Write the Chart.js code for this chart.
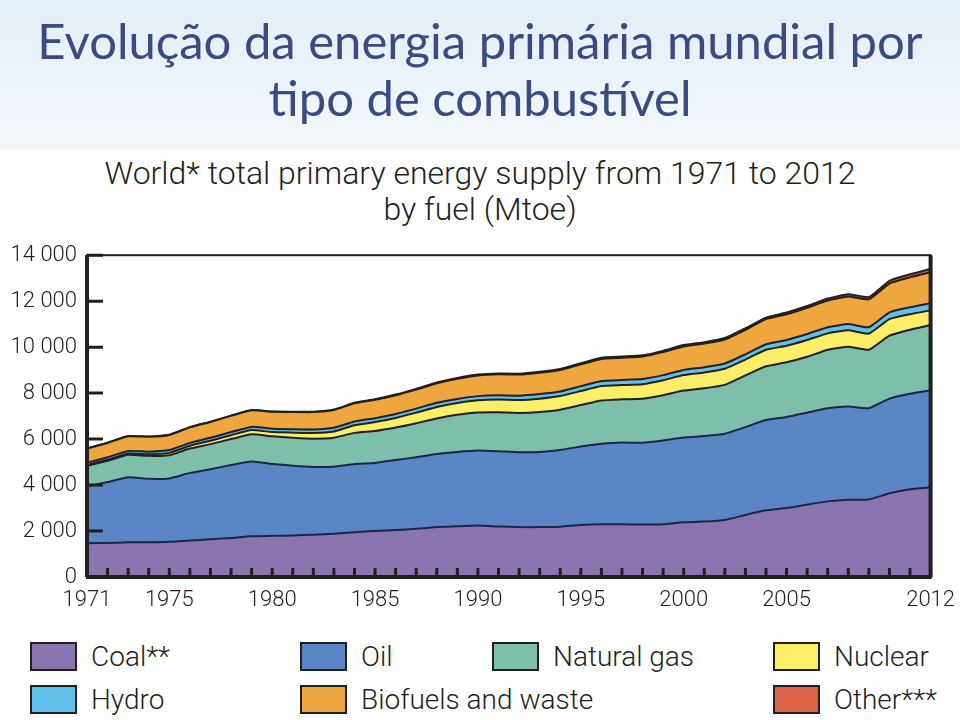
<!DOCTYPE html>
<html>
<head>
<meta charset="utf-8">
<script src="https://cdn.jsdelivr.net/npm/chart.js@4/dist/chart.umd.min.js"></script>
<style>
	body {margin: 0; width: 960px; height: 720px; overflow: hidden; background: #fff; position: relative;}
	#banner {position: absolute; left: 0; top: 0; width: 960px; height: 150px;
		background: linear-gradient(to bottom, #e4eef6, #f3f8fb);}
	#title {position: absolute; left: 0; top: 12px; width: 960px; text-align: center;
		font: 49px/57px Lato, "Open Sans", sans-serif; color: #3b4a85;}
	#subtitle {position: absolute; left: 0; top: 155px; width: 960px; text-align: center;
		font: 300 32px/36px Roboto, sans-serif; color: #231f20;}
	#wrap {position: absolute; left: 0; top: 232px; width: 965px; height: 388px;}
	.key {position: absolute; display: flex; align-items: center; font: 300 28px Roboto, sans-serif; color: #231f20;}
	.key span {display: inline-block; width: 43px; height: 25px; border: 2px solid #231f20; margin-right: 14px;}
</style>
</head>
<body>
<div id="banner"></div>
<div id="title">Evolução da energia primária mundial por<br>tipo de combustível</div>
<div id="subtitle">World* total primary energy supply from 1971 to 2012<br>by fuel (Mtoe)</div>
<div id="wrap"><canvas id="chart"></canvas></div>
<div id="legend"></div>
<script>
const years = [1971, 1972, 1973, 1974, 1975, 1976, 1977, 1978, 1979, 1980,
	1981, 1982, 1983, 1984, 1985, 1986, 1987, 1988, 1989, 1990,
	1991, 1992, 1993, 1994, 1995, 1996, 1997, 1998, 1999, 2000,
	2001, 2002, 2003, 2004, 2005, 2006, 2007, 2008, 2009, 2010,
	2011, 2012];
const xTickYears = [1971, 1975, 1980, 1985, 1990, 1995, 2000, 2005, 2012];
const yTicks = [0, 2000, 4000, 6000, 8000, 10000, 12000, 14000];

//Mtoe per fuel
const coal = [1470, 1480, 1510, 1510, 1530, 1590, 1640, 1700, 1770, 1790,
	1810, 1840, 1880, 1950, 2000, 2040, 2100, 2170, 2210, 2240,
	2200, 2170, 2170, 2190, 2260, 2290, 2290, 2280, 2300, 2380,
	2410, 2480, 2700, 2900, 3000, 3150, 3290, 3360, 3370, 3640,
	3820, 3900];
const oil = [2480, 2650, 2830, 2760, 2760, 2940, 3050, 3170, 3250, 3130,
	3030, 2950, 2920, 2970, 2960, 3050, 3110, 3180, 3230, 3260,
	3270, 3260, 3270, 3340, 3420, 3510, 3560, 3560, 3640, 3690,
	3720, 3750, 3820, 3930, 3960, 4000, 4050, 4060, 3970, 4120,
	4150, 4220];
const gas = [890, 930, 980, 1000, 1010, 1060, 1090, 1130, 1190, 1200,
	1220, 1230, 1260, 1350, 1390, 1410, 1480, 1550, 1620, 1660,
	1700, 1710, 1740, 1750, 1800, 1880, 1880, 1920, 1970, 2040,
	2080, 2130, 2250, 2340, 2380, 2430, 2550, 2600, 2550, 2740,
	2790, 2840];
const nuclear = [29, 40, 54, 70, 100, 120, 150, 170, 180, 186,
	220, 240, 270, 330, 390, 420, 460, 500, 510, 525,
	550, 560, 580, 590, 610, 630, 620, 630, 650, 675,
	690, 700, 690, 715, 720, 730, 710, 710, 700, 720,
	675, 640];
const hydro = [104, 107, 110, 113, 122, 124, 127, 135, 141, 148,
	151, 155, 162, 166, 170, 173, 175, 179, 178, 184,
	189, 190, 200, 202, 213, 218, 221, 223, 223, 225,
	224, 228, 229, 242, 252, 260, 264, 275, 279, 296,
	300, 315];
const biofuels = [615, 625, 640, 650, 660, 675, 690, 705, 720, 730,
	745, 760, 775, 790, 800, 815, 830, 850, 880, 900,
	910, 915, 925, 935, 950, 960, 970, 980, 1000, 1020,
	1030, 1045, 1065, 1090, 1120, 1140, 1165, 1200, 1210, 1250,
	1300, 1340];
const other = [6, 6, 6, 7, 7, 8, 9, 10, 11, 12,
	14, 16, 18, 21, 25, 28, 31, 33, 35, 37,
	39, 40, 42, 44, 46, 48, 50, 52, 55, 60,
	61, 63, 66, 70, 74, 80, 87, 95, 102, 120,
	133, 147];

const names = ["Coal**", "Oil", "Natural gas", "Nuclear", "Hydro", "Biofuels and waste", "Other***"];
const colors = ["#8b75b1", "#5b86c6", "#7dbfaa", "#fcee66", "#5fc0ea", "#eea73e", "#db6149"];
const series = [coal, oil, gas, nuclear, hydro, biofuels, other];
const ink = "#231f20";
const tickFont = {family: "Roboto, sans-serif", size: 22, weight: 300};

//Legend slots: [left, top] of each key, same order as names
const slots = [[30, 640], [300, 640], [492, 640], [773, 640], [30, 683], [300, 683], [773, 683]];
document.getElementById("legend").innerHTML = names.map((n, i) =>
	`<div class="key" style="left:${slots[i][0]}px;top:${slots[i][1]}px"><span style="background:${colors[i]}"></span>${n}</div>`
).join("");

//Frame round the plot plus the short inward tick marks
const frame = {
	id: "frame",
	afterDatasetsDraw(chart) {
		const {ctx, chartArea: a, scales: {x, y}} = chart;
		ctx.save();
		ctx.strokeStyle = ink;
		ctx.lineWidth = 3;
		ctx.beginPath();
		yTicks.forEach(v => {
			const py = y.getPixelForValue(v);
			ctx.moveTo(a.left, py); ctx.lineTo(a.left + 16, py);
		});
		years.forEach(yr => {
			const px = x.getPixelForValue(yr);
			ctx.moveTo(px, a.bottom); ctx.lineTo(px, a.bottom - 9);
		});
		ctx.stroke();
		ctx.lineWidth = 2;
		ctx.strokeRect(a.left, a.top, a.right - a.left, a.bottom - a.top);
		ctx.lineWidth = 4;
		ctx.beginPath();
		ctx.moveTo(a.left - 1, a.bottom); ctx.lineTo(a.right + 1, a.bottom);
		ctx.moveTo(a.left, a.top); ctx.lineTo(a.left, a.bottom);
		ctx.moveTo(a.right, a.top); ctx.lineTo(a.right, a.bottom);
		ctx.stroke();
		ctx.restore();
	},
};

new Chart(document.getElementById("chart"), {
	type: "line",
	data: {
		datasets: series.map((s, i) => ({
			label: names[i],
			data: years.map((yr, j) => ({x: yr, y: s[j]})),
			backgroundColor: colors[i],
			borderColor: i < 2 ? "#1d2547" : ink,
			borderWidth: 2,
			pointRadius: 0,
			tension: 0.15,
			fill: i ? "-1" : "origin",
		})),
	},
	options: {
		responsive: true,
		maintainAspectRatio: false,
		animation: false,
		layout: {padding: {top: 0, right: 30, left: 0, bottom: 0}},
		plugins: {legend: {display: false}, tooltip: {enabled: false}},
		scales: {
			x: {
				type: "linear", min: 1971, max: 2012,
				afterBuildTicks: sc => {sc.ticks = xTickYears.map(v => ({value: v}));},
				afterFit: sc => {sc.height = 43;},
				grid: {display: false, drawTicks: false},
				border: {display: false},
				ticks: {color: ink, font: tickFont, padding: 10, maxRotation: 0, autoSkip: false,
					callback: v => "" + v},
			},
			y: {
				stacked: true, min: 0, max: 14000,
				afterBuildTicks: sc => {sc.ticks = yTicks.map(v => ({value: v}));},
				afterFit: sc => {sc.width = 87;},
				grid: {display: false, drawTicks: false},
				border: {display: false},
				ticks: {color: ink, font: tickFont, padding: 10,
					callback: v => ("" + v).replace(/\B(?=(\d{3})+(?!\d))/g, " ")},
			},
		},
	},
	plugins: [frame],
});
</script>
</body>
</html>
